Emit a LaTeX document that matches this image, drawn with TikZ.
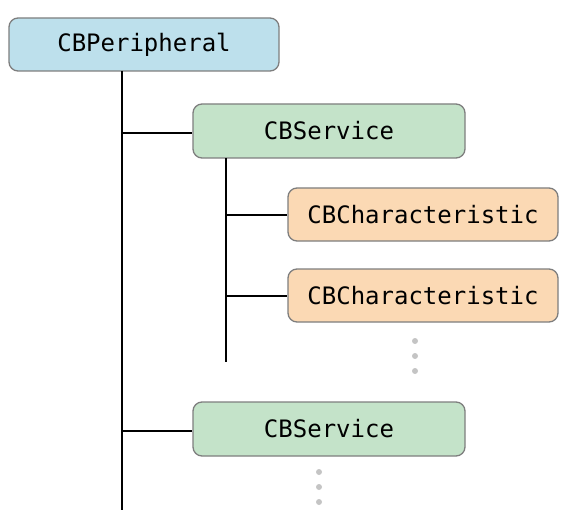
\documentclass[tikz,border=0pt]{standalone}
\usepackage{fontspec}
\setmonofont{DejaVu Sans Mono}
\definecolor{perblue}{HTML}{BDE0EC}
\definecolor{svcgreen}{HTML}{C4E3C9}
\definecolor{chrorange}{HTML}{FBD9B4}
\definecolor{boxedge}{HTML}{7E7E7E}
\definecolor{dotgray}{HTML}{C4C4C4}
\tikzset{
  box/.style={draw=boxedge, line width=1.3pt, rounded corners=9pt, minimum height=53pt,
    minimum width=270pt, inner sep=0pt, font=\ttfamily\fontsize{24}{28}\selectfont},
  perbox/.style={box, fill=perblue},
  svcbox/.style={box, fill=svcgreen, minimum width=272pt, minimum height=54pt},
  chrbox/.style={box, fill=chrorange},
  tree/.style={line width=2pt, black},
  moredot/.style={circle, fill=dotgray, inner sep=0pt, minimum size=6pt}
}
\begin{document}
\begin{tikzpicture}[x=1pt,y=-1pt]
\useasboundingbox (0,0) rectangle (584,524);
\node[perbox] (per) at (144,44.5) {CBPeripheral};
\node[svcbox] (svc1) at (329,131) {CBService};
\node[chrbox] (chr1) at (423,214.5) {CBCharacteristic};
\node[chrbox] (chr2) at (423,295.5) {CBCharacteristic};
\node[svcbox] (svc2) at (329,429) {CBService};
\coordinate (mainend) at (122,510);
\coordinate (subend) at (226,362);
\coordinate (mtop) at (122,71);
\coordinate (stop) at (226,158);
\draw[tree] (mtop) -- (mainend);
\draw[tree] (stop) -- (subend);
\draw[tree] (122,133) -- (svc1.west |- 0,133);
\draw[tree] (122,431) -- (svc2.west |- 0,431);
\draw[tree] (226,215) -- (chr1.west |- 0,215);
\draw[tree] (226,296) -- (chr2.west |- 0,296);
\node[moredot] (d1) at (415,341) {};
\node[moredot] (d2) at (415,356) {};
\node[moredot] (d3) at (415,371) {};
\node[moredot] (e1) at (319,472) {};
\node[moredot] (e2) at (319,487) {};
\node[moredot] (e3) at (319,502) {};
\end{tikzpicture}
\end{document}
